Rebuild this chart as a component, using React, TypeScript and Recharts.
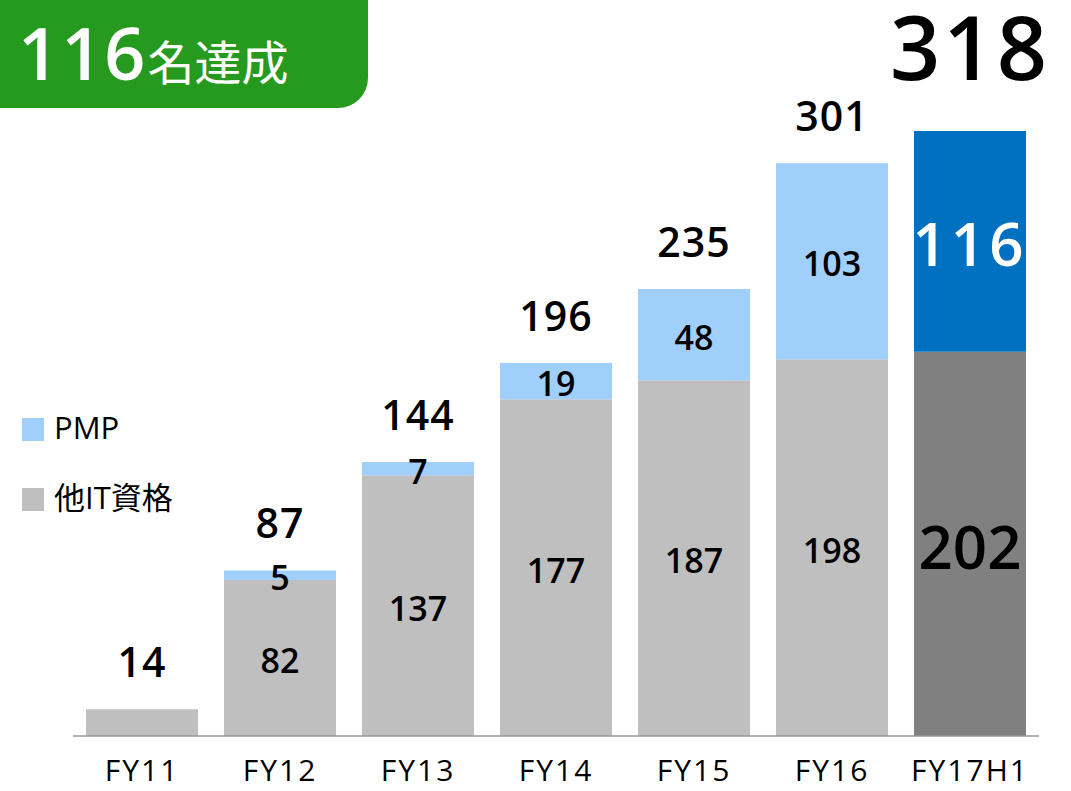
import React from "react";
import { BarChart, Bar, XAxis, YAxis, Cell, LabelList } from "recharts";

const categories = ["FY11", "FY12", "FY13", "FY14", "FY15", "FY16", "FY17H1"];
const otherIT = [14, 82, 137, 177, 187, 198, 202];
const pmp = [0, 5, 7, 19, 48, 103, 116];
const totals = [14, 87, 144, 196, 235, 301, 318];

const FONT = "'Open Sans', 'Noto Sans CJK JP', sans-serif";
const LIGHT_BLUE = "#a0cffc";
const LIGHT_GRAY = "#bfbfbf";
const DARK_BLUE = "#0070c0";
const DARK_GRAY = "#808080";
const LAST = categories.length - 1;

const data = categories.map((c, i) => ({
  name: c,
  other: otherIT[i],
  pmp: pmp[i],
  total: totals[i],
}));

// labels are keyed on the category name because zero-height bars get dropped
function segLabel(kind: "other" | "pmp") {
  return (props: any) => {
    const { x, y, width, height, value } = props;
    const i = categories.indexOf(value);
    if (i < 0) return null;
    const v = kind === "other" ? otherIT[i] : pmp[i];
    if (!v) return null;
    if (kind === "other" && pmp[i] === 0) return null;
    const last = i === LAST;
    return (
      <text
        x={x + width / 2}
        y={y + height / 2 + 2}
        textAnchor="middle"
        dominantBaseline="central"
        fontFamily={FONT}
        fontSize={last ? 60 : 34}
        fontWeight={600}
        letterSpacing={last && kind === "pmp" ? 4 : 0}
        fill={last && kind === "pmp" ? "#fff" : "#000"}
      >
        {v}
      </text>
    );
  };
}

function totalLabel(kind: "other" | "pmp") {
  return (props: any) => {
    const { x, y, width, value } = props;
    const i = categories.indexOf(value);
    if (i < 0) return null;
    // total sits on the top segment of each stack
    if (kind === "other" && pmp[i] !== 0) return null;
    if (kind === "pmp" && pmp[i] === 0) return null;
    const last = i === LAST;
    return (
      <text
        x={x + width / 2}
        y={last ? 46 : y - 48}
        textAnchor="middle"
        dominantBaseline="central"
        fontFamily={FONT}
        fontSize={last ? 88 : 41}
        fontWeight={600}
        letterSpacing={last ? 3 : 1}
        fill="#000"
      >
        {totals[i]}
      </text>
    );
  };
}

export default function App() {
  return (
    <div style={{ position: "absolute", left: 0, top: 0, width: 1071, height: 791, background: "#fff", fontFamily: FONT }}>
      <div
        style={{
          position: "absolute", left: 0, top: 0, width: 368, height: 108,
          background: "#259a1e", borderBottomRightRadius: 30, color: "#fff",
        }}
      >
        <div style={{ position: "absolute", left: 18, top: 2, whiteSpace: "nowrap", lineHeight: "100px" }}>
          <span style={{ fontSize: 72, fontWeight: 600, letterSpacing: 2 }}>116</span>
          <span style={{ fontSize: 47, fontWeight: 400, fontFamily: "'Noto Sans CJK JP'" }}>名達成</span>
        </div>
      </div>

      <div style={{ position: "absolute", left: 22, top: 418, width: 22, height: 23, background: LIGHT_BLUE }} />
      <div style={{ position: "absolute", left: 54, top: 407, fontSize: 31, lineHeight: "40px" }}>PMP</div>
      <div style={{ position: "absolute", left: 22, top: 488, width: 22, height: 23, background: LIGHT_GRAY }} />
      <div style={{ position: "absolute", left: 54, top: 477, fontSize: 31, lineHeight: "40px" }}>他IT資格</div>

      <BarChart
        width={1071}
        height={791}
        data={data}
        margin={{ top: 131, right: 32, bottom: 5, left: 73 }}
        barSize={112}
        style={{ position: "absolute", left: 0, top: 0 }}
      >
        <XAxis
          dataKey="name"
          height={50}
          tickLine={false}
          axisLine={{ stroke: "#999", strokeWidth: 1.5 }}
          tick={{ fontSize: 30, fill: "#000", fontFamily: FONT, dy: 16, letterSpacing: 2 }}
          interval={0}
        />
        <YAxis hide width={0} domain={[0, 318]} />
        <Bar dataKey="other" stackId="a" isAnimationActive={false}>
          {data.map((_, i) => (
            <Cell key={i} fill={i === LAST ? DARK_GRAY : LIGHT_GRAY} />
          ))}
          <LabelList dataKey="name" content={segLabel("other")} />
          <LabelList dataKey="name" content={totalLabel("other")} />
        </Bar>
        <Bar dataKey="pmp" stackId="a" isAnimationActive={false}>
          {data.map((_, i) => (
            <Cell key={i} fill={i === LAST ? DARK_BLUE : LIGHT_BLUE} />
          ))}
          <LabelList dataKey="name" content={segLabel("pmp")} />
          <LabelList dataKey="name" content={totalLabel("pmp")} />
        </Bar>
      </BarChart>
    </div>
  );
}
